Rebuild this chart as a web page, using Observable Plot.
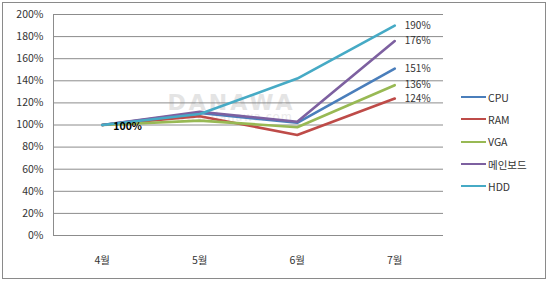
<!DOCTYPE html>
<html>
<head>
<meta charset="utf-8">
<script src="https://cdn.jsdelivr.net/npm/d3@7"></script>
<script src="https://cdn.jsdelivr.net/npm/@observablehq/plot@0.6"></script>
<style>
  body { margin: 0; background: #fff; }
  #wrap { position: relative; width: 550px; height: 283px; font-family: "Noto Sans CJK KR", "Noto Sans", sans-serif; }
  #border { position: absolute; left: 2px; top: 2px; width: 544px; height: 277px; border: 1px solid #8a8a8a; box-sizing: border-box; pointer-events: none; }
  #legend { position: absolute; left: 461px; top: 86px; font-size: 10.5px; color: #333; }
  .item { display: flex; align-items: center; height: 22.3px; }
  .sw { width: 25px; height: 2px; margin-right: 2px; }
  svg { position: absolute; left: 0; top: 0; }
  .wm text { letter-spacing: 3px; font-family: "DejaVu Sans", sans-serif; }
  .wm2 text { letter-spacing: 1px; }
</style>
</head>
<body>
<div id="wrap"><div id="border"></div><div id="legend"></div></div>
<script>
const months = ["4월", "5월", "6월", "7월"];
const seriesNames = ["CPU", "RAM", "VGA", "메인보드", "HDD"];
const colors = ["#4a7ebb", "#be4b48", "#98b954", "#7d60a0", "#46aac5"];
const cpu = [1.00, 1.11, 1.02, 1.51];
const ram = [1.00, 1.08, 0.91, 1.24];
const vga = [1.00, 1.04, 0.98, 1.36];
const board = [1.00, 1.12, 1.03, 1.76];
const hdd = [1.00, 1.10, 1.42, 1.90];
const yTicks = [0, 0.2, 0.4, 0.6, 0.8, 1.0, 1.2, 1.4, 1.6, 1.8, 2.0];
const endLabels = ["151%", "124%", "136%", "176%", "190%"];
const startLabel = "100%";

const allValues = [cpu, ram, vga, board, hdd];
const data = [];
seriesNames.forEach((s, si) => allValues[si].forEach((v, i) => data.push({series: s, i, value: v})));
const ends = seriesNames.map((s, si) => ({series: s, i: 3, value: allValues[si][3], label: endLabels[si]}));

const plot = Plot.plot({
  width: 550,
  height: 283,
  marginLeft: 53,
  marginRight: 107,
  marginTop: 14,
  marginBottom: 48,
  style: {fontFamily: "'Noto Sans CJK KR', 'Noto Sans', sans-serif", fontSize: "10.5px", color: "#333", background: "transparent"},
  x: {type: "linear", domain: [-0.5, 3.5], ticks: [0, 1, 2, 3], tickFormat: i => months[i], tickSize: 0, tickPadding: 21, label: null},
  y: {domain: [0, 2], ticks: yTicks, tickFormat: d => Math.round(d * 100) + "%", tickSize: 0, tickPadding: 10, label: null},
  color: {domain: seriesNames, range: colors},
  marks: [
    Plot.text(["DANAWA"], {frameAnchor: "top-left", dx: 114, dy: 80, text: d => d, textAnchor: "start", fontSize: 22, fontWeight: "bold", fill: "#e4e4e4", className: "wm"}),
    Plot.text(["www.danawa.com"], {frameAnchor: "top-left", dx: 122, dy: 98, text: d => d, textAnchor: "start", fontSize: 12, fill: "#ececec", className: "wm2"}),
    Plot.ruleY(yTicks, {stroke: "#8c8c8c", strokeWidth: 1}),
    Plot.ruleX([-0.5], {stroke: "#8c8c8c", strokeWidth: 1}),
    Plot.lineY(data, {x: "i", y: "value", z: "series", stroke: "series", strokeWidth: 2.6}),
    Plot.text(ends, {x: "i", y: "value", text: "label", dx: 10, textAnchor: "start", fill: "#333", fontSize: 10}),
    Plot.text([{i: 0, value: 1.0}], {x: "i", y: "value", text: () => startLabel, dx: 11, dy: 2, textAnchor: "start", fill: "#000", fontWeight: "bold", fontSize: 10.5})
  ]
});
const wrap = document.getElementById("wrap");
wrap.insertBefore(plot, wrap.firstChild);

const legend = document.getElementById("legend");
seriesNames.forEach((s, si) => {
  const item = document.createElement("div");
  item.className = "item";
  const sw = document.createElement("div");
  sw.className = "sw";
  sw.style.background = colors[si];
  const t = document.createElement("span");
  t.textContent = s;
  item.appendChild(sw);
  item.appendChild(t);
  legend.appendChild(item);
});
</script>
</body>
</html>
